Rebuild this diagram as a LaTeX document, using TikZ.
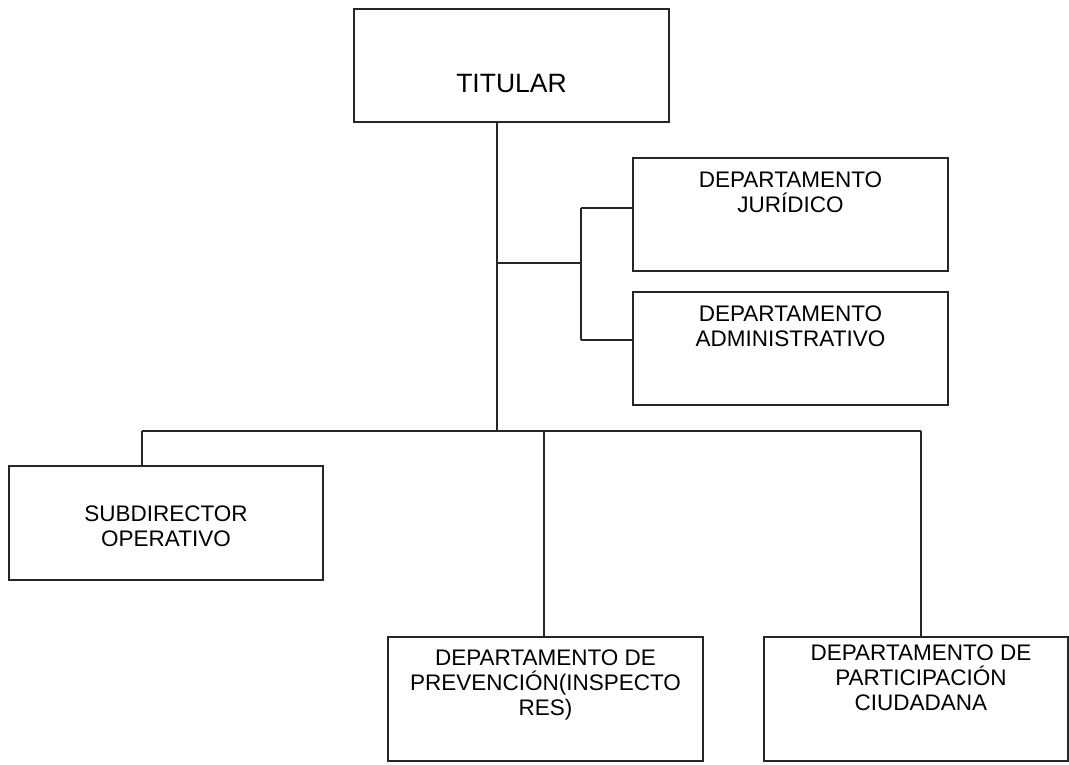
\documentclass[tikz,border=0pt]{standalone}
\usepackage{fontspec}
\setmainfont{Liberation Sans}
\usepackage{tikz}
\usetikzlibrary{positioning}

\begin{document}
\begin{tikzpicture}[
  x=1pt, y=-1pt,
  box/.style={draw=black!85, line width=1.3pt, minimum width=315pt, minimum height=113pt, inner sep=0pt},
  txt/.style={align=center, inner sep=0pt, font=\fontsize{22.5}{25}\selectfont},
  link/.style={draw=black!85, line width=1.3pt}
]
\useasboundingbox (0,0) rectangle (1069,764);

% Head
\node[box] (tit) at (511.5,65.5) {};
\node[txt, font=\fontsize{26.5}{30}\selectfont, below=66pt of tit.north] (titt) {TITULAR};

% Staff departments
\node[box] (jur) at (790.5,214.5) {};
\node[txt, below=14.5pt of jur.north] (jurt) {DEPARTAMENTO\\JURÍDICO};

\node[box] (adm) at (790.5,348.5) {};
\node[txt, below=14.5pt of adm.north] (admt) {DEPARTAMENTO\\ADMINISTRATIVO};

% Line departments
\node[box, minimum width=314pt, minimum height=114pt] (sub) at (166,523) {};
\node[txt, below=40.5pt of sub.north] (subt) {SUBDIRECTOR\\OPERATIVO};

\node[box, minimum height=124pt] (pre) at (545.5,699) {};
\node[txt, below=13.5pt of pre.north] (pret) {DEPARTAMENTO DE\\PREVENCIÓN(INSPECTO\\RES)};

\node[box, minimum width=304pt, minimum height=124pt] (par) at (916,699) {};
\node[txt, anchor=north] (part) at ([xshift=5pt, yshift=-8.5pt]par.north) {DEPARTAMENTO DE\\PARTICIPACIÓN\\CIUDADANA};

% Junction points
\coordinate (mid) at (497,263);
\coordinate (hub) at (497,431);
\coordinate (fj) at (581,208);
\coordinate (fa) at (581,340);
\coordinate (bl) at (142,431);
\coordinate (bp) at (544,431);
\coordinate (br) at (921,431);

% Lines
\draw[link] (tit.south -| hub) -- (hub);
\draw[link] (mid) -- (mid -| fj);
\draw[link] (fj) -- (fa);
\draw[link] (fj) -- (fj -| jur.west);
\draw[link] (fa) -- (fa -| adm.west);
\draw[link] (bl) -- (br);
\draw[link] (bl) -- (bl |- sub.north);
\draw[link] (bp) -- (bp |- pre.north);
\draw[link] (br) -- (br |- par.north);

\end{tikzpicture}
\end{document}
